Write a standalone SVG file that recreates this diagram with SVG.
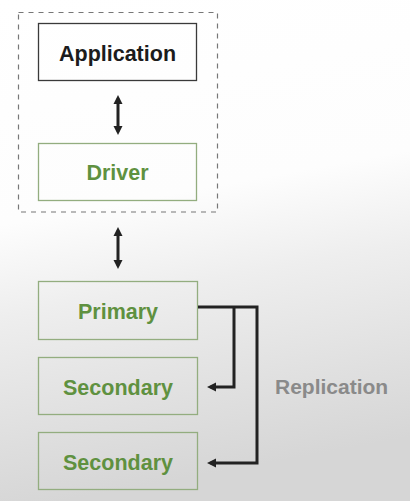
<svg xmlns="http://www.w3.org/2000/svg" width="410" height="501" viewBox="0 0 410 501">
<defs>
<linearGradient id="bg" x1="0" y1="0" x2="0.15" y2="1">
<stop offset="0" stop-color="#ffffff"/>
<stop offset="0.44" stop-color="#fdfdfd"/>
<stop offset="0.62" stop-color="#eeeeee"/>
<stop offset="1" stop-color="#d6d6d6"/>
</linearGradient>
<marker id="ah" viewBox="0 0 10 10" refX="6" refY="5" markerWidth="9" markerHeight="10" orient="auto-start-reverse" markerUnits="userSpaceOnUse">
<path d="M0,0 L10,5 L0,10 Z" fill="#222"/>
</marker>
</defs>
<style>
.box{fill:none;stroke-width:1.3}
.blk{stroke:#3a3a3a}
.grn{stroke:#93ad7f}
.t{font-family:"Liberation Sans",Arial,sans-serif;font-weight:bold;font-size:21.5px;text-anchor:middle}
.tb{fill:#1c1c1c}
.tg{fill:#5f9140}
.ln{fill:none;stroke:#222;stroke-width:3}
</style>
<rect x="0" y="0" width="410" height="501" fill="url(#bg)"/>
<rect x="18.5" y="12.5" width="199" height="199.5" fill="none" stroke="#777" stroke-width="1.2" stroke-dasharray="5,5"/>
<g id="application">
<rect class="box blk" x="38.5" y="23.5" width="158" height="57"/>
<text class="t tb" x="117.5" y="61">Application</text>
</g>
<g id="driver">
<rect class="box grn" x="38.5" y="143.5" width="158" height="57"/>
<text class="t tg" x="117.5" y="180">Driver</text>
</g>
<g id="primary">
<rect class="box grn" x="38.5" y="281.5" width="159" height="58"/>
<text class="t tg" x="118" y="319">Primary</text>
</g>
<g id="secondary1">
<rect class="box grn" x="38.5" y="357.5" width="159" height="57"/>
<text class="t tg" x="118" y="395">Secondary</text>
</g>
<g id="secondary2">
<rect class="box grn" x="38.5" y="432.5" width="159" height="57"/>
<text class="t tg" x="118" y="470">Secondary</text>
</g>
<g id="connectors">
<line class="ln" x1="118" y1="98.6" x2="118" y2="131.4" marker-start="url(#ah)" marker-end="url(#ah)"/>
<line class="ln" x1="118" y1="230.6" x2="118" y2="265.4" marker-start="url(#ah)" marker-end="url(#ah)"/>
<polyline class="ln" points="198,307 257,307 257,463 210.6,463" marker-end="url(#ah)"/>
<polyline class="ln" points="234,307 234,387 210.6,387" marker-end="url(#ah)"/>
</g>
<text x="275" y="394" font-family="'Liberation Sans',Arial,sans-serif" font-weight="bold" font-size="21px" fill="#8a8a8a">Replication</text>
</svg>
